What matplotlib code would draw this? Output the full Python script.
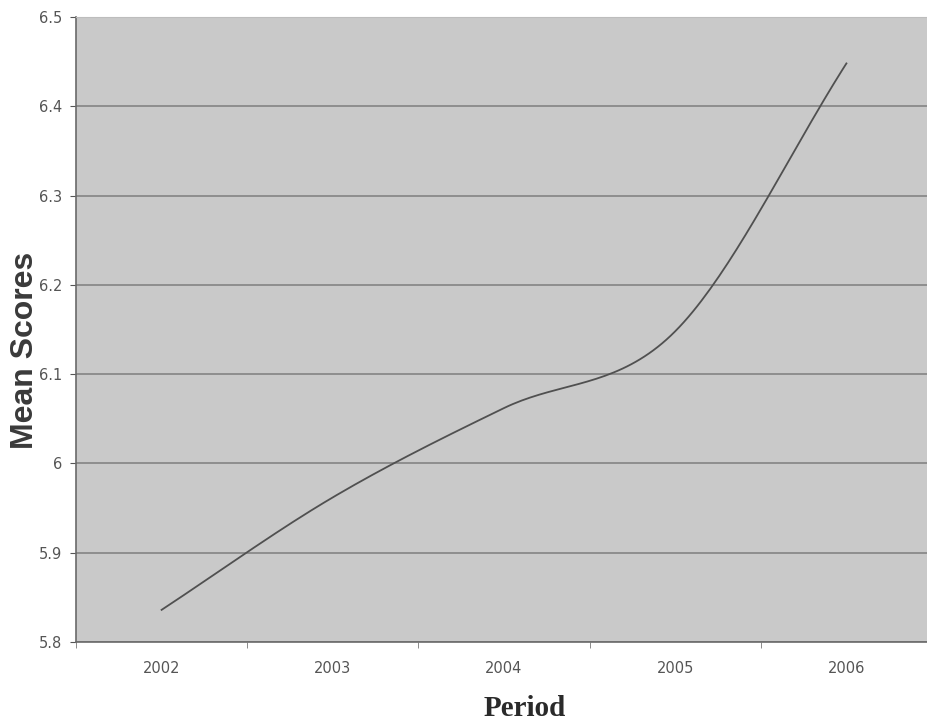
import matplotlib
matplotlib.use("Agg")
import matplotlib.pyplot as plt
import numpy as np

# data
years = ["2002", "2003", "2004", "2005", "2006"]
mean_scores = [5.836, 5.962, 6.062, 6.148, 6.448]
y_ticks = [5.8, 5.9, 6.0, 6.1, 6.2, 6.3, 6.4, 6.5]
y_tick_labels = ["5.8", "5.9", "6", "6.1", "6.2", "6.3", "6.4", "6.5"]


def smooth_line(xs, ys, n=40):
    # Catmull-Rom spline through the points (like Excel "smoothed line")
    xs = np.asarray(xs, float)
    ys = np.asarray(ys, float)
    px = np.concatenate([[2 * xs[0] - xs[1]], xs, [2 * xs[-1] - xs[-2]]])
    py = np.concatenate([[2 * ys[0] - ys[1]], ys, [2 * ys[-1] - ys[-2]]])
    out_x, out_y = [], []
    t = np.linspace(0, 1, n)
    for i in range(1, len(px) - 2):
        for p, out in ((px, out_x), (py, out_y)):
            p0, p1, p2, p3 = p[i - 1], p[i], p[i + 1], p[i + 2]
            seg = 0.5 * ((2 * p1) + (-p0 + p2) * t
                         + (2 * p0 - 5 * p1 + 4 * p2 - p3) * t ** 2
                         + (-p0 + 3 * p1 - 3 * p2 + p3) * t ** 3)
            out.extend(seg)
    return np.array(out_x), np.array(out_y)


fig = plt.figure(figsize=(9.28, 7.24), dpi=100)
ax = fig.add_axes([76 / 928, 82 / 724, 856 / 928, 625 / 724])
ax.set_facecolor("#c9c9c9")

x = np.arange(len(years))
sx, sy = smooth_line(x, mean_scores)
ax.plot(sx, sy, color="#505050", lw=1.3, zorder=3)

ax.set_xlim(-0.5, len(years) - 0.5)
ax.set_ylim(5.8, 6.5)
ax.set_yticks(y_ticks)
ax.set_yticklabels(y_tick_labels)
ax.set_xticks(x)
ax.set_xticklabels(years)
ax.set_xticks(np.arange(len(years) + 1) - 0.5, minor=True)

ax.grid(axis="y", color="#7e7e7e", lw=1.1)
ax.set_axisbelow(True)

ax.tick_params(axis="y", labelsize=10.5, colors="#555555", length=4, width=0.8, pad=6)
ax.tick_params(axis="x", which="major", length=0, labelsize=10.5, labelcolor="#555555", pad=14)
ax.tick_params(axis="x", which="minor", length=4, color="#777777")

for side in ["left", "bottom"]:
    ax.spines[side].set_color("#6a6a6a")
    ax.spines[side].set_linewidth(1.2)
ax.spines["top"].set_color("#bdbdbd")
ax.spines["right"].set_visible(False)

fig.text(25 / 928, 1 - 350 / 724, "Mean Scores", fontsize=23, fontweight="bold",
         color="#3a3a3a", family="Liberation Sans", rotation=90,
         ha="center", va="center")
fig.text(0.565, 0.022, "Period", fontsize=21, fontweight="bold", color="#2a2a2a",
         family="Liberation Serif", ha="center", va="center")

fig.savefig("out.png", dpi=100)
